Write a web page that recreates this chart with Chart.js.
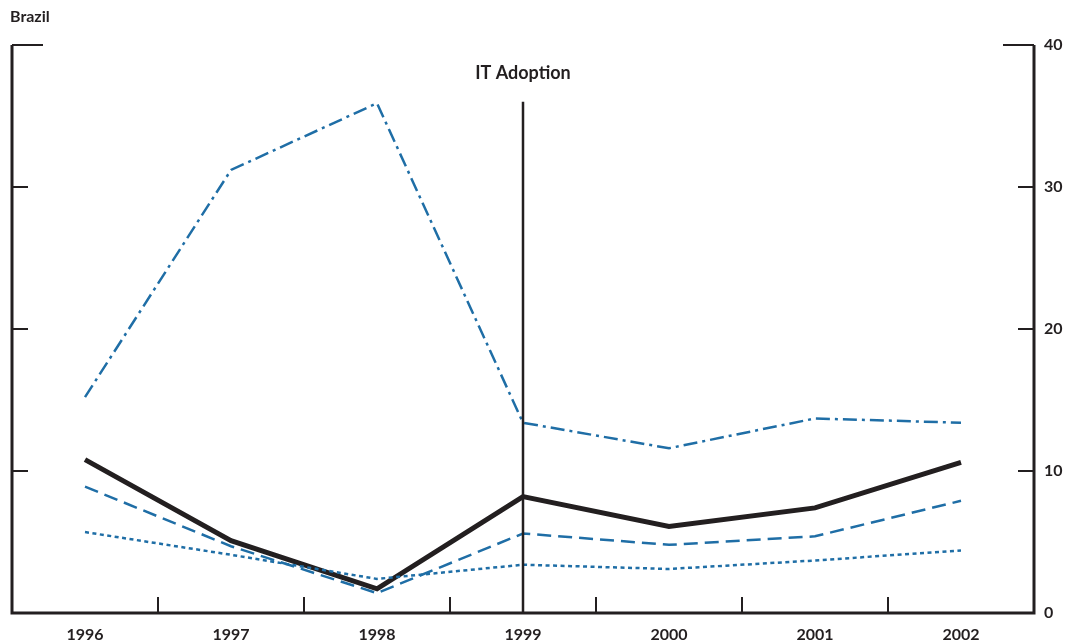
<!DOCTYPE html>
<html>
<head>
    <title>Brazil</title>
    <script src="https://cdn.jsdelivr.net/npm/chart.js"></script>
    <style>
        body { margin: 0; background: #fff; }
    </style>
</head>
<body>
    <div style="width: 1068px; height: 642px;">
        <canvas id="myChart"></canvas>
    </div>
    <script>
        // values
        const years = ['1996', '1997', '1998', '1999', '2000', '2001', '2002'];
        const solidLine = [10.8, 5.1, 1.7, 8.2, 6.1, 7.4, 10.6];
        const dashDotLine = [15.2, 31.2, 35.9, 13.4, 11.6, 13.7, 13.4];
        const dashedLine = [8.9, 4.7, 1.4, 5.6, 4.8, 5.4, 7.9];
        const dottedLine = [5.7, 4.1, 2.4, 3.4, 3.1, 3.7, 4.4];
        const yTicks = [0, 10, 20, 30, 40];
        const adoptionYear = '1999';

        const ink = '#231f20';
        const blue = '#1f6ea6';
        const fontFamily = 'Lato, "Open Sans", sans-serif';

        // axis frame, inward ticks, IT adoption marker, title
        const framePlugin = {
            id: 'frame',
            afterDatasetsDraw(chart) {
                const ctx = chart.ctx;
                const a = chart.chartArea;
                const x = chart.scales.x;
                const y = chart.scales.y;
                ctx.save();
                ctx.strokeStyle = ink;
                ctx.lineCap = 'butt';

                // vertical adoption line
                const ax = x.getPixelForValue(years.indexOf(adoptionYear));
                ctx.lineWidth = 2.5;
                ctx.beginPath();
                ctx.moveTo(ax, y.getPixelForValue(36));
                ctx.lineTo(ax, a.bottom);
                ctx.stroke();

                ctx.lineWidth = 3;
                ctx.beginPath();
                ctx.moveTo(a.left, a.top);
                ctx.lineTo(a.left, a.bottom);
                ctx.lineTo(a.right, a.bottom);
                ctx.lineTo(a.right, a.top);
                ctx.stroke();

                ctx.lineWidth = 2;
                ctx.beginPath();
                yTicks.forEach(v => {
                    if (v === 0) return;
                    const py = y.getPixelForValue(v);
                    const len = v === 40 ? 31 : 16;
                    ctx.moveTo(a.left, py);
                    ctx.lineTo(a.left + len, py);
                    ctx.moveTo(a.right, py);
                    ctx.lineTo(a.right - len, py);
                });
                // x ticks between categories
                for (let i = 0; i < years.length - 1; i++) {
                    const px = (x.getPixelForValue(i) + x.getPixelForValue(i + 1)) / 2;
                    ctx.moveTo(px, a.bottom);
                    ctx.lineTo(px, a.bottom - 16);
                }
                ctx.stroke();

                ctx.fillStyle = ink;
                ctx.font = 'bold 18px ' + fontFamily;
                ctx.textAlign = 'center';
                ctx.textBaseline = 'middle';
                ctx.fillText('IT Adoption', ax, 73);

                ctx.textAlign = 'left';
                ctx.font = 'bold 16px ' + fontFamily;
                ctx.fillText('Brazil', 10, 17);
                ctx.restore();
            }
        };

        var ctx = document.getElementById('myChart').getContext('2d');
        var myChart = new Chart(ctx, {
            type: 'line',
            data: {
                labels: years,
                datasets: [{
                    data: dashDotLine,
                    borderColor: blue,
                    borderWidth: 2.5,
                    borderDash: [14, 5, 3, 5],
                    yAxisID: 'y'
                }, {
                    data: dashedLine,
                    borderColor: blue,
                    borderWidth: 2.5,
                    borderDash: [14, 7],
                    yAxisID: 'y'
                }, {
                    data: dottedLine,
                    borderColor: blue,
                    borderWidth: 2.5,
                    borderDash: [4, 3.5],
                    yAxisID: 'y'
                }, {
                    data: solidLine,
                    borderColor: ink,
                    borderWidth: 5,
                    yAxisID: 'y'
                }]
            },
            options: {
                responsive: true,
                maintainAspectRatio: false,
                animation: false,
                elements: {
                    point: { radius: 0 },
                    line: { tension: 0, borderJoinStyle: 'miter' }
                },
                layout: { padding: { left: 12, top: 45, right: 0, bottom: 0 } },
                plugins: {
                    legend: { display: false },
                    tooltip: { enabled: false }
                },
                scales: {
                    x: {
                        offset: true,
                        grid: { display: false, drawTicks: false },
                        border: { display: false },
                        ticks: {
                            color: ink,
                            padding: 12,
                            font: { family: fontFamily, size: 16, weight: 'bold' }
                        },
                        afterFit(scale) { scale.height = 29; }
                    },
                    y: {
                        position: 'right',
                        min: 0,
                        max: 40,
                        afterBuildTicks(scale) {
                            scale.ticks = yTicks.map(v => ({ value: v }));
                        },
                        grid: { display: false, drawTicks: false },
                        border: { display: false },
                        ticks: {
                            color: ink,
                            padding: 10,
                            font: { family: fontFamily, size: 16, weight: 'bold' }
                        },
                        afterFit(scale) { scale.width = 34; }
                    }
                }
            },
            plugins: [framePlugin]
        });
    </script>
</body>
</html>
